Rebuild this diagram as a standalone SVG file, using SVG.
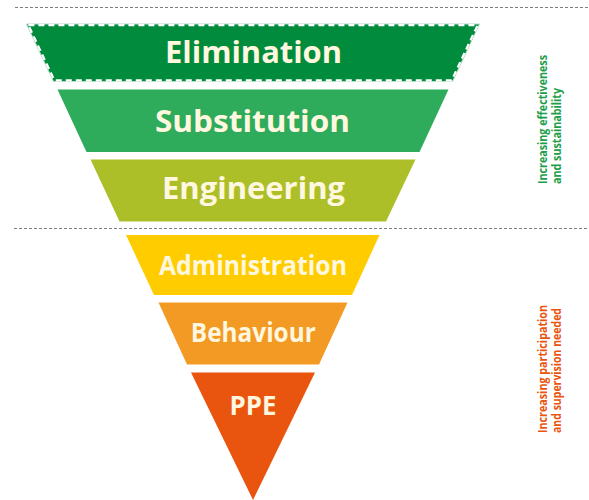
<svg xmlns="http://www.w3.org/2000/svg" width="589" height="500" viewBox="0 0 589 500">
<style>
.sep{stroke:#7d7d7d;stroke-width:1;stroke-dasharray:3 2;fill:none}
.lbl{font-family:"Open Sans","Noto Sans","DejaVu Sans",sans-serif;font-weight:bold;fill:#FFF7DF;text-anchor:middle}
.big{font-size:31px}
.mid{font-size:26px}
.side{font-family:"Open Sans","Noto Sans","DejaVu Sans",sans-serif;font-weight:bold;font-size:12px}
</style>
<rect width="589" height="500" fill="#ffffff"/>
<g id="separators">
<line class="sep" x1="15" y1="7.5" x2="589" y2="7.5"/>
<line class="sep" x1="14" y1="228.5" x2="589" y2="228.5"/>
</g>
<g id="elimination">
<polygon points="26.5,24 479.5,24 452.5,81.5 53.5,81.5" fill="#008C3C" stroke="#b3dcc2" stroke-width="1"/>
<polygon points="28.4,25.2 477.6,25.2 451.7,80.3 54.3,80.3" fill="none" stroke="#ffffff" stroke-width="2.2" stroke-dasharray="6 4"/>
<text class="lbl big" x="253.5" y="63" textLength="177" lengthAdjust="spacingAndGlyphs">Elimination</text>
</g>
<g id="substitution">
<polygon points="57.5,89.5 448.5,89.5 419.5,152 86.5,152" fill="#2EAB5B"/>
<text class="lbl big" x="252.5" y="132" textLength="195" lengthAdjust="spacingAndGlyphs">Substitution</text>
</g>
<g id="engineering">
<polygon points="90.5,159.5 415.5,159.5 386,221.5 119.5,221.5" fill="#ADBF28"/>
<text class="lbl big" x="253.5" y="199" textLength="183" lengthAdjust="spacingAndGlyphs">Engineering</text>
</g>
<g id="administration">
<polygon points="126,235 379.5,235 352,295 154,295" fill="#FFCC00"/>
<text class="lbl mid" x="253" y="274.5" textLength="188" lengthAdjust="spacingAndGlyphs">Administration</text>
</g>
<g id="behaviour">
<polygon points="158.5,302.5 347.5,302.5 319,364.5 187,364.5" fill="#F39A24"/>
<text class="lbl mid" x="253.3" y="341.5" textLength="125" lengthAdjust="spacingAndGlyphs">Behaviour</text>
</g>
<g id="ppe">
<polygon points="191,372.5 315,372.5 253,500" fill="#E9550F"/>
<text class="lbl mid" x="253" y="415" textLength="47" lengthAdjust="spacingAndGlyphs">PPE</text>
</g>
<g id="effectiveness-label" transform="translate(546.5,184) rotate(-90)" class="side" fill="#1E9E4B">
<text x="0" y="0" textLength="129" lengthAdjust="spacingAndGlyphs">Increasing effectiveness</text>
<text x="0" y="14.5" textLength="96" lengthAdjust="spacingAndGlyphs">and sustainability</text>
</g>
<g id="participation-label" transform="translate(546.5,433) rotate(-90)" class="side" fill="#E9550F">
<text x="0" y="0" textLength="128" lengthAdjust="spacingAndGlyphs">Increasing participation</text>
<text x="0" y="14.5" textLength="125" lengthAdjust="spacingAndGlyphs">and supervision needed</text>
</g>
</svg>
